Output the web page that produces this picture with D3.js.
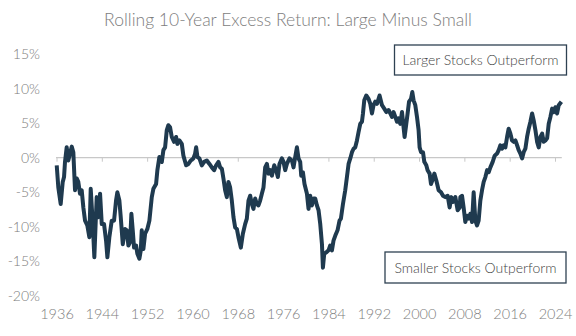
<!DOCTYPE html>
<html>
<head>
<meta charset="utf-8">
<script src="https://cdn.jsdelivr.net/npm/d3@7"></script>
<style>
    body { margin: 0; background: #fff; }
    text { font-family: Lato, "Open Sans", sans-serif; }
</style>
</head>
<body>
<div id="chart"></div>
<script>
// rolling 10-year excess return, large minus small (%)
var years = [1936.04, 1936.32, 1936.74, 1937.10, 1937.33, 1937.50, 1937.80, 1938.08, 1938.39, 1938.69,
    1938.97, 1939.27, 1939.57, 1939.85, 1940.15, 1940.45, 1940.74, 1941.04, 1941.44, 1941.80,
    1942.04, 1942.40, 1942.68, 1942.93, 1943.10, 1943.39, 1943.69, 1943.99, 1944.39, 1944.75,
    1944.98, 1945.33, 1945.75, 1946.16, 1946.51, 1946.74, 1947.10, 1947.34, 1947.70, 1948.10,
    1948.40, 1948.69, 1948.99, 1949.22, 1949.46, 1949.69, 1950.05, 1950.28, 1950.63, 1950.88,
    1951.05, 1951.34, 1951.64, 1952.04, 1952.40, 1952.82, 1953.10, 1953.58, 1953.81, 1954.16,
    1954.29, 1954.59, 1954.87, 1955.17, 1955.47, 1955.75, 1956.05, 1956.35, 1956.76, 1957.11,
    1957.34, 1957.70, 1958.12, 1958.40, 1958.88, 1959.29, 1959.71, 1960.17, 1960.47, 1960.65,
    1960.88, 1961.23, 1961.65, 1962.06, 1962.54, 1963.00, 1963.42, 1963.83, 1964.18, 1964.59,
    1964.89, 1965.19, 1965.47, 1965.77, 1966.07, 1966.35, 1966.65, 1966.95, 1967.24, 1967.54,
    1967.84, 1968.12, 1968.54, 1968.90, 1969.30, 1969.60, 1969.89, 1970.19, 1970.49, 1970.77,
    1971.07, 1971.37, 1971.65, 1971.95, 1972.25, 1972.54, 1972.84, 1973.14, 1973.42, 1973.72,
    1974.02, 1974.43, 1974.78, 1975.08, 1975.36, 1975.79, 1976.07, 1976.37, 1976.67, 1977.13,
    1977.56, 1977.84, 1978.14, 1978.44, 1978.72, 1979.02, 1979.20, 1979.50, 1979.78, 1980.21,
    1980.49, 1980.79, 1981.09, 1981.37, 1981.67, 1981.97, 1982.26, 1982.56, 1982.86, 1983.03,
    1983.26, 1983.61, 1984.02, 1984.32, 1984.62, 1984.90, 1985.20, 1985.61, 1985.96, 1986.21,
    1986.57, 1986.97, 1987.27, 1987.56, 1987.86, 1988.16, 1988.44, 1988.74, 1989.04, 1989.32,
    1989.62, 1989.92, 1990.10, 1990.33, 1990.68, 1991.09, 1991.39, 1991.69, 1991.97, 1992.27,
    1992.57, 1993.03, 1993.46, 1993.86, 1994.22, 1994.62, 1994.92, 1995.22, 1995.51, 1995.81,
    1996.11, 1996.39, 1996.69, 1996.99, 1997.27, 1997.45, 1997.75, 1997.98, 1998.23, 1998.58,
    1998.81, 1999.04, 1999.34, 1999.64, 1999.92, 2000.10, 2000.35, 2000.70, 2000.93, 2001.28,
    2001.51, 2001.87, 2002.11, 2002.47, 2002.70, 2003.05, 2003.46, 2003.88, 2004.23, 2004.64,
    2005.05, 2005.40, 2005.70, 2006.00, 2006.41, 2006.81, 2007.17, 2007.29, 2007.59, 2007.87,
    2008.17, 2008.47, 2008.76, 2009.06, 2009.36, 2009.64, 2009.94, 2010.24, 2010.52, 2010.82,
    2011.12, 2011.41, 2011.71, 2012.01, 2012.29, 2012.59, 2013.00, 2013.35, 2013.77, 2014.06,
    2014.36, 2014.66, 2014.94, 2015.24, 2015.54, 2015.82, 2016.12, 2016.42, 2016.71, 2017.01,
    2017.31, 2017.59, 2017.89, 2018.19, 2018.47, 2018.77, 2019.07, 2019.36, 2019.66, 2019.96,
    2020.24, 2020.54, 2020.84, 2021.13, 2021.43, 2021.73, 2022.01, 2022.31, 2022.61, 2022.89,
    2023.19, 2023.49, 2023.77, 2024.07, 2024.37, 2024.66, 2025.13];

var excess = [-1.1, -4.3, -6.7, -3.5, -2.8, -0.6, 1.5, -0.4, 0.6, 1.6,
    0.8, -4.7, -3.0, -3.5, -5.2, -4.7, -7.2, -9.1, -9.8, -11.5,
    -4.5, -9.5, -14.4, -9.1, -5.7, -8.6, -5.2, -9.6, -9.6, -12.0,
    -14.4, -11.5, -9.1, -9.1, -6.2, -5.0, -6.2, -8.6, -12.5, -10.3,
    -10.5, -12.7, -12.2, -8.1, -10.5, -13.0, -12.7, -13.9, -14.6, -13.4,
    -10.5, -13.2, -11.0, -10.3, -9.1, -5.7, -4.5, -3.8, -1.8, 0.1,
    -0.4, -0.6, 1.1, 1.5, 4.0, 4.7, 4.4, 3.0, 2.3, 3.0,
    2.0, 2.5, 2.0, 0.3, -1.1, -0.9, -0.4, -0.1, 0.6, 1.5,
    0.1, -0.1, -1.1, -0.6, -0.4, -0.9, -1.4, -1.8, -1.1, -0.6,
    -1.4, -1.6, -3.0, -4.7, -5.7, -3.5, -4.3, -6.2, -8.6, -10.1,
    -10.3, -11.5, -13.0, -11.0, -9.6, -8.8, -6.2, -5.5, -6.7, -7.4,
    -5.9, -6.7, -6.9, -6.2, -5.2, -4.3, -1.4, -0.9, -2.3, -1.8,
    -2.6, -1.1, -1.8, -2.8, -0.9, -0.1, -0.6, -1.8, -0.9, -0.1,
    -0.4, -1.4, 0.1, 1.5, -0.1, -0.6, -2.6, -2.1, -3.8, -5.2,
    -7.4, -5.5, -6.9, -5.9, -5.9, -6.9, -7.6, -9.6, -12.5, -15.9,
    -13.9, -13.7, -13.4, -12.7, -13.4, -12.0, -11.3, -10.5, -9.1, -8.8,
    -6.7, -4.7, -2.8, -0.9, -0.1, 0.8, 1.3, 1.5, 2.5, 3.7,
    4.9, 5.2, 6.4, 8.3, 9.0, 8.5, 7.8, 6.4, 7.6, 8.1,
    7.8, 9.0, 7.6, 7.1, 6.6, 6.9, 6.4, 5.9, 6.6, 5.9,
    5.2, 5.7, 4.9, 6.6, 4.4, 3.0, 4.9, 6.4, 8.1, 8.5,
    9.5, 8.3, 7.6, 5.9, 4.0, 1.5, 0.8, 0.8, -0.6, -1.1,
    -1.8, -2.3, -3.8, -3.0, -2.3, -3.3, -4.7, -5.0, -5.5, -5.7,
    -5.5, -7.2, -5.7, -6.4, -5.7, -7.6, -7.2, -5.7, -5.5, -7.2,
    -9.3, -8.4, -8.8, -8.1, -9.3, -5.0, -9.1, -9.8, -9.1, -6.2,
    -4.7, -3.5, -2.8, -1.8, -2.1, -1.4, -0.6, 0.3, 0.6, 1.1,
    1.8, 1.3, 1.8, 1.5, 3.0, 4.2, 3.5, 2.5, 2.3, 2.5,
    1.8, 1.1, 0.6, -0.1, 0.8, 1.3, 3.0, 4.2, 5.2, 6.4,
    5.4, 4.0, 2.3, 1.5, 3.0, 3.5, 2.3, 2.5, 2.8, 4.9,
    5.9, 7.1, 6.6, 7.3, 6.4, 7.6, 8.1];

var xTicks = [1936, 1944, 1952, 1960, 1968, 1976, 1984, 1992, 2000, 2008, 2016, 2024];
var yTicks = [-20, -15, -10, -5, 0, 5, 10, 15];

var chartTitle = "Rolling 10-Year Excess Return: Large Minus Small";
var topNote = "Larger Stocks Outperform";
var bottomNote = "Smaller Stocks Outperform";

var graph_width = 576;
var graph_height = 336;
var line_color = "#1f3a4f";
var text_color = "#7d7d7d";

var svg = d3.select("#chart")
    .append("svg")
    .attr("width", graph_width)
    .attr("height", graph_height);

var xScale = d3.scaleLinear().domain([1936, 2024]).range([56.5, 555]);
var yScale = d3.scaleLinear().domain([-20, 15]).range([296, 54]);

// title
svg.append("text")
    .attr("x", 288)
    .attr("y", 26)
    .attr("text-anchor", "middle")
    .attr("font-size", 17.5)
    .attr("font-weight", 300)
    .attr("fill", text_color)
    .text(chartTitle);

// y labels, no axis line
var yAxis = d3.axisLeft(yScale)
    .tickValues(yTicks)
    .tickSize(0)
    .tickPadding(0)
    .tickFormat(function (d) { return d + "%"; });

var yg = svg.append("g")
    .attr("transform", "translate(40, 0)")
    .call(yAxis);
yg.select(".domain").remove();
yg.selectAll("text")
    .attr("font-size", 14)
    .attr("font-weight", 300)
    .attr("fill", text_color)
    .style("font-family", "Lato, sans-serif");

// zero line with small ticks
var zeroAxis = d3.axisBottom(xScale)
    .tickValues(xTicks)
    .tickSize(4)
    .tickFormat("");

var zg = svg.append("g")
    .attr("transform", `translate(0, ${yScale(0)})`)
    .call(zeroAxis);
zg.select(".domain")
    .attr("d", `M${xScale(1936) - 0.5},0H${xScale(2025.2)}`)
    .attr("stroke", "#c8c8c8")
    .attr("stroke-width", 1.3);
zg.selectAll(".tick line").attr("stroke", "#c8c8c8");

// x labels along the bottom
var xAxis = d3.axisBottom(xScale)
    .tickValues(xTicks)
    .tickSize(0)
    .tickPadding(0)
    .tickFormat(d3.format("d"));

var xg = svg.append("g")
    .attr("transform", "translate(0, 309)")
    .call(xAxis);
xg.select(".domain").remove();
xg.selectAll("text")
    .attr("font-size", 14.5)
    .attr("font-weight", 300)
    .attr("fill", text_color)
    .style("font-family", "Lato, sans-serif");

// the series
var points = years.map(function (y, i) { return [y, excess[i]]; });
var line = d3.line()
    .x(function (d) { return xScale(d[0]); })
    .y(function (d) { return yScale(d[1]); });

svg.append("path")
    .datum(points)
    .attr("d", line)
    .attr("fill", "none")
    .attr("stroke", line_color)
    .attr("stroke-width", 4)
    .attr("stroke-linejoin", "round");

// annotation boxes
function noteBox(x, y, w, h, label) {
    svg.append("rect")
        .attr("x", x)
        .attr("y", y)
        .attr("width", w)
        .attr("height", h)
        .attr("fill", "#fff")
        .attr("stroke", "#2e4152")
        .attr("stroke-width", 1.3);
    svg.append("text")
        .attr("x", x + w / 2)
        .attr("y", y + h / 2 + 5)
        .attr("text-anchor", "middle")
        .attr("font-size", 14)
        .attr("font-weight", 300)
        .attr("fill", "#444")
        .text(label);
}
noteBox(394.5, 45, 172, 30, topNote);
noteBox(385, 252, 181, 31, bottomNote);
</script>
</body>
</html>
